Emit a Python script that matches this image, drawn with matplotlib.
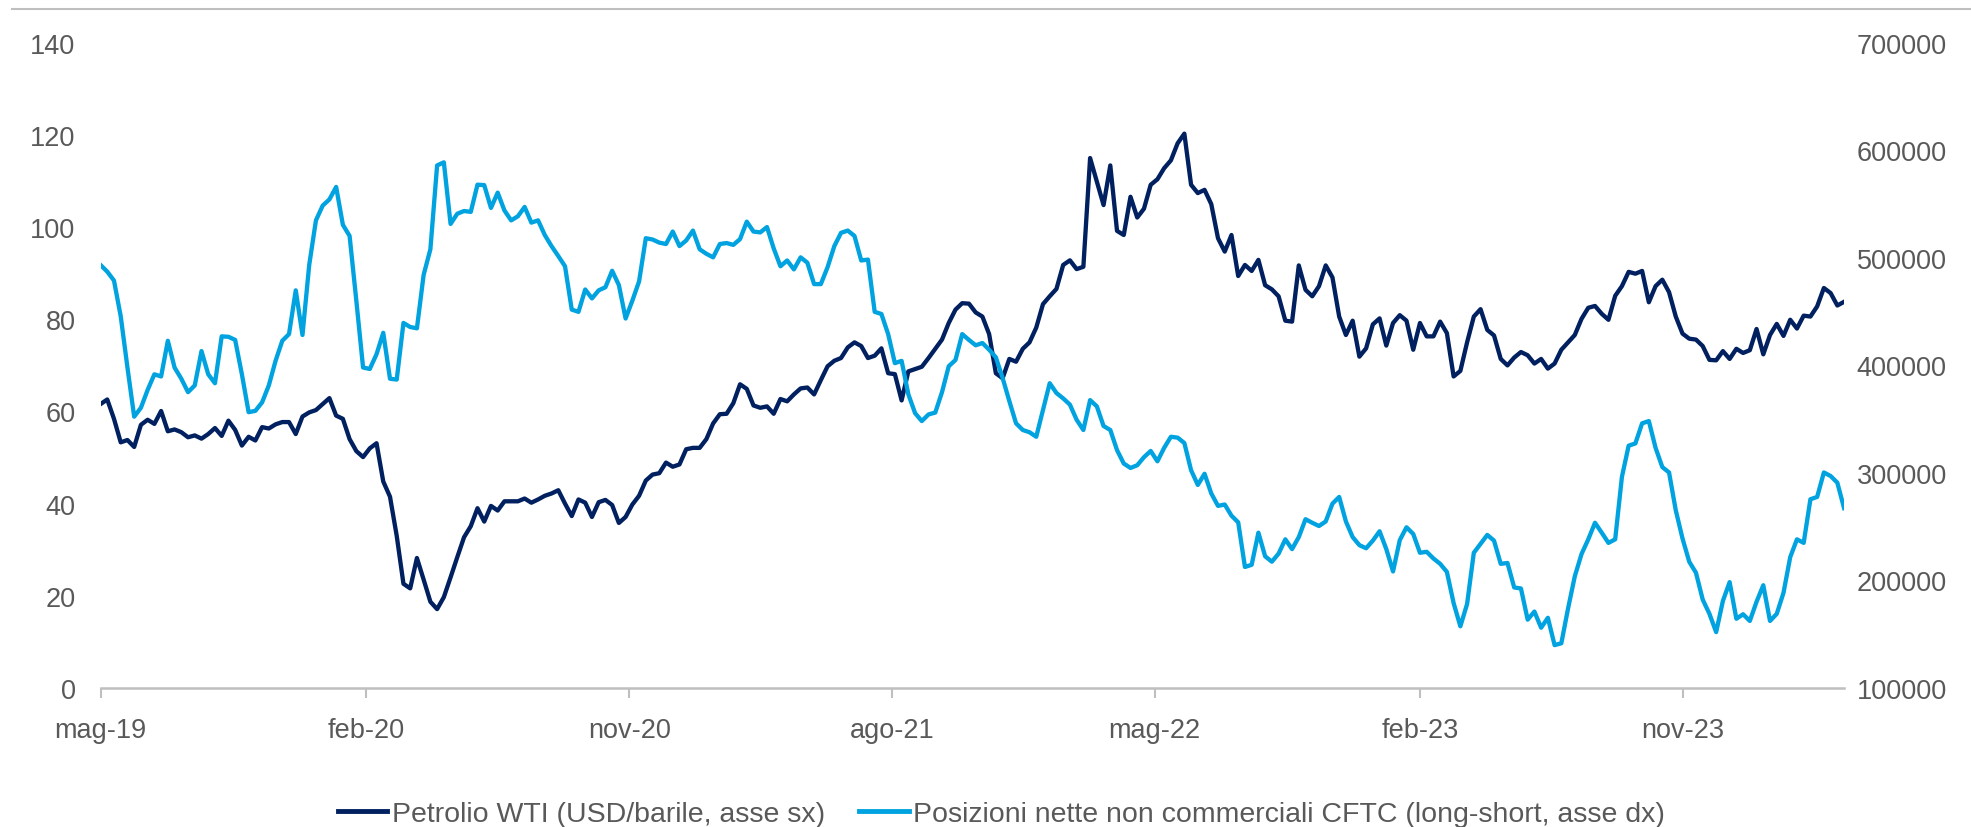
#!/usr/bin/env python3

import matplotlib
matplotlib.use("Agg")
import matplotlib.pyplot as plt
from matplotlib.lines import Line2D
import numpy as np
import pandas as pd

# weekly WTI price (USD/barrel), left axis
wti = [
    61.6, 62.6, 58.4, 53.3, 53.8, 52.3, 57.1, 58.2, 57.3, 60.1,
    55.7, 56.1, 55.5, 54.4, 54.8, 54.1, 55.1, 56.4, 54.7, 58.0,
    56.0, 52.6, 54.5, 53.7, 56.6, 56.3, 57.2, 57.7, 57.7, 55.1,
    58.9, 59.8, 60.3, 61.6, 62.9, 59.1, 58.4, 54.0, 51.4, 50.1,
    52.0, 53.1, 44.8, 41.5, 33.0, 22.6, 21.6, 28.2, 23.5, 18.7,
    17.1, 19.7, 24.0, 28.4, 32.7, 35.1, 39.0, 36.1, 39.5, 38.5,
    40.5, 40.5, 40.5, 41.1, 40.2, 40.9, 41.7, 42.2, 42.9, 40.0,
    37.3, 40.9, 40.2, 37.1, 40.3, 40.8, 39.7, 35.8, 37.1, 39.8,
    41.7, 45.0, 46.3, 46.6, 48.9, 48.0, 48.5, 51.8, 52.1, 52.1,
    54.0, 57.4, 59.4, 59.5, 61.8, 65.9, 64.9, 61.3, 60.8, 61.1,
    59.5, 62.7, 62.2, 63.7, 65.0, 65.2, 63.7, 66.8, 69.8, 71.0,
    71.6, 73.9, 75.0, 74.2, 71.6, 72.1, 73.7, 68.3, 68.1, 62.4,
    68.7, 69.2, 69.7, 71.6, 73.6, 75.6, 79.2, 82.1, 83.5, 83.4,
    81.5, 80.6, 76.8, 68.3, 67.2, 71.4, 70.8, 73.6, 75.0, 78.2,
    83.3, 85.0, 86.6, 91.8, 92.8, 90.9, 91.4, 115.0, 109.9, 104.8,
    113.4, 99.2, 98.3, 106.6, 102.1, 104.0, 109.2, 110.4, 112.8, 114.5,
    118.2, 120.3, 109.2, 107.4, 108.1, 105.0, 97.6, 94.7, 98.3, 89.4,
    91.8, 90.5, 92.9, 87.4, 86.5, 85.0, 79.7, 79.5, 91.7, 86.4,
    85.0, 87.2, 91.7, 89.1, 80.6, 76.6, 79.7, 71.9, 73.7, 78.9,
    80.2, 74.3, 79.2, 80.9, 79.7, 73.4, 79.2, 76.3, 76.3, 79.5,
    77.0, 67.6, 68.8, 75.0, 80.6, 82.2, 77.7, 76.5, 71.4, 70.0,
    71.7, 72.9, 72.2, 70.4, 71.4, 69.3, 70.4, 73.4, 75.0, 76.6,
    80.1, 82.5, 82.9, 81.2, 79.9, 85.1, 87.2, 90.3, 89.9, 90.5,
    83.7, 87.2, 88.6, 85.9, 80.6, 76.9, 75.8, 75.6, 74.2, 71.2,
    71.1, 73.1, 71.4, 73.6, 72.7, 73.3, 77.9, 72.4, 76.6, 79.0,
    76.4, 79.9, 78.0, 80.8, 80.6, 82.8, 86.8, 85.7, 83.0, 83.8,
]

# weekly CFTC non-commercial net positions (thousands of contracts), right axis
cftc_k = [
    493.4, 487.2, 478.9, 445.7, 398.0, 352.3, 360.6, 377.2, 391.7, 389.7,
    422.9, 398.0, 387.6, 375.1, 381.4, 413.3, 391.7, 383.4, 427.0, 426.6,
    423.7, 391.7, 356.5, 357.7, 365.6, 381.4, 404.2, 422.9, 429.1, 469.8,
    428.3, 493.4, 534.9, 548.6, 554.4, 566.0, 530.8, 520.4, 460.2, 398.0,
    396.7, 410.4, 430.3, 387.6, 386.8, 439.5, 435.7, 434.5, 484.3, 508.0,
    586.0, 588.9, 531.6, 541.1, 543.6, 542.8, 568.1, 567.7, 546.5, 560.7,
    544.1, 534.9, 538.7, 547.4, 532.8, 534.9, 521.2, 510.9, 501.7, 492.2,
    451.9, 449.8, 470.6, 462.3, 469.8, 472.7, 488.0, 474.7, 443.6, 460.2,
    478.1, 518.3, 517.1, 514.2, 512.9, 524.5, 511.0, 516.2, 525.4, 508.0,
    503.8, 500.5, 512.9, 513.8, 512.1, 517.5, 533.7, 524.5, 523.7, 528.7,
    508.8, 492.2, 497.6, 489.3, 500.5, 495.5, 475.6, 475.6, 491.3, 510.9,
    523.3, 525.4, 520.4, 497.6, 498.4, 449.8, 447.8, 429.1, 402.1, 404.2,
    373.1, 355.6, 348.2, 354.4, 356.1, 375.1, 399.2, 405.0, 429.1, 423.7,
    418.7, 420.8, 414.6, 407.5, 388.4, 366.8, 346.1, 339.9, 337.8, 333.6,
    358.5, 383.4, 374.3, 369.3, 363.5, 349.4, 339.9, 367.7, 361.9, 343.6,
    339.9, 321.2, 308.7, 304.6, 307.1, 314.6, 320.4, 310.8, 323.3, 333.6,
    332.8, 327.8, 302.5, 288.8, 299.2, 280.9, 269.3, 270.6, 260.2, 254.0,
    212.5, 214.5, 244.4, 222.4, 217.4, 224.9, 238.2, 229.1, 240.3, 256.9,
    253.6, 250.6, 254.8, 271.4, 277.6, 254.8, 240.3, 232.8, 229.9, 237.0,
    245.7, 229.1, 208.3, 237.4, 249.4, 243.2, 225.7, 226.6, 220.4, 215.4,
    207.9, 178.9, 157.3, 178.0, 225.7, 234.0, 242.3, 237.0, 215.4, 216.2,
    193.4, 192.5, 163.5, 171.0, 156.0, 165.2, 139.8, 141.5, 173.9, 203.8,
    224.5, 238.2, 253.6, 244.4, 234.9, 238.2, 296.3, 325.3, 327.4, 346.1,
    348.2, 323.3, 305.4, 300.4, 265.2, 239.0, 217.4, 207.1, 182.2, 168.9,
    151.9, 180.9, 198.4, 164.3, 168.5, 162.3, 180.1, 195.5, 162.3, 168.9,
    188.4, 221.6, 238.2, 234.9, 275.5, 277.6, 300.4, 297.1, 290.9, 267.2,
]

first_date = "2019-05-03"
tick_labels = ["mag-19", "feb-20", "nov-20", "ago-21", "mag-22", "feb-23", "nov-23"]
left_ticks = [0, 20, 40, 60, 80, 100, 120, 140]
right_ticks = [100000, 200000, 300000, 400000, 500000, 600000, 700000]
label_wti = "Petrolio WTI (USD/barile, asse sx)"
label_cftc = "Posizioni nette non commerciali CFTC (long-short, asse dx)"

NAVY = "#002060"
LIGHT = "#00A3E0"
GREY_TXT = "#595959"
GREY_AX = "#BFBFBF"

plt.rcParams['font.family'] = ['Liberation Sans', 'DejaVu Sans']

dates = pd.date_range(first_date, periods=len(wti), freq="7D")
tick_dates = pd.date_range(first_date, periods=len(tick_labels), freq=pd.DateOffset(months=9))

fig = plt.figure(figsize=(19.71, 8.28), dpi=100)
ax = fig.add_axes([0.051, 0.168, 0.8846, 0.779])
ax2 = ax.twinx()

ax.plot(dates, wti, color=NAVY, lw=3.1, solid_joinstyle="round")
ax2.plot(dates, np.array(cftc_k) * 1000, color=LIGHT, lw=3.1, solid_joinstyle="round")

ax.set_xlim(dates[0], dates[-1])
ax.set_ylim(0, 140)
ax2.set_ylim(100000, 700000)
ax.set_yticks(left_ticks)
ax.set_yticklabels([str(v) for v in left_ticks])
ax2.set_yticks(right_ticks)
ax2.set_yticklabels([str(v) for v in right_ticks])
ax.set_xticks(tick_dates)
ax.set_xticklabels(tick_labels)

for a in (ax, ax2):
    for s in ("top", "left", "right", "bottom"):
        a.spines[s].set_visible(False)
ax.spines["bottom"].set_visible(True)
ax.spines["bottom"].set_color(GREY_AX)
ax.spines["bottom"].set_linewidth(1.8)

ax.tick_params(axis="x", colors=GREY_AX, length=7, width=1.5, pad=14, labelsize=19.5, labelcolor=GREY_TXT)
ax.tick_params(axis="y", length=0, pad=18, labelsize=19.5, labelcolor=GREY_TXT)
ax2.tick_params(axis="y", length=0, pad=9, labelsize=19.5, labelcolor=GREY_TXT)

# thin grey rule at the very top of the slide
fig.add_artist(Line2D([0.006, 1.0], [0.988, 0.988], color=GREY_AX, lw=1.5, transform=fig.transFigure))

handles = [Line2D([], [], color=NAVY, lw=3.5), Line2D([], [], color=LIGHT, lw=3.5)]
fig.legend(handles, [label_wti, label_cftc], loc="center", bbox_to_anchor=(0.508, 0.016),
           ncol=2, frameon=False, fontsize=20.5, labelcolor=GREY_TXT,
           handlelength=1.75, handletextpad=0.15, columnspacing=1.2)

fig.savefig("out.png", dpi=100)
